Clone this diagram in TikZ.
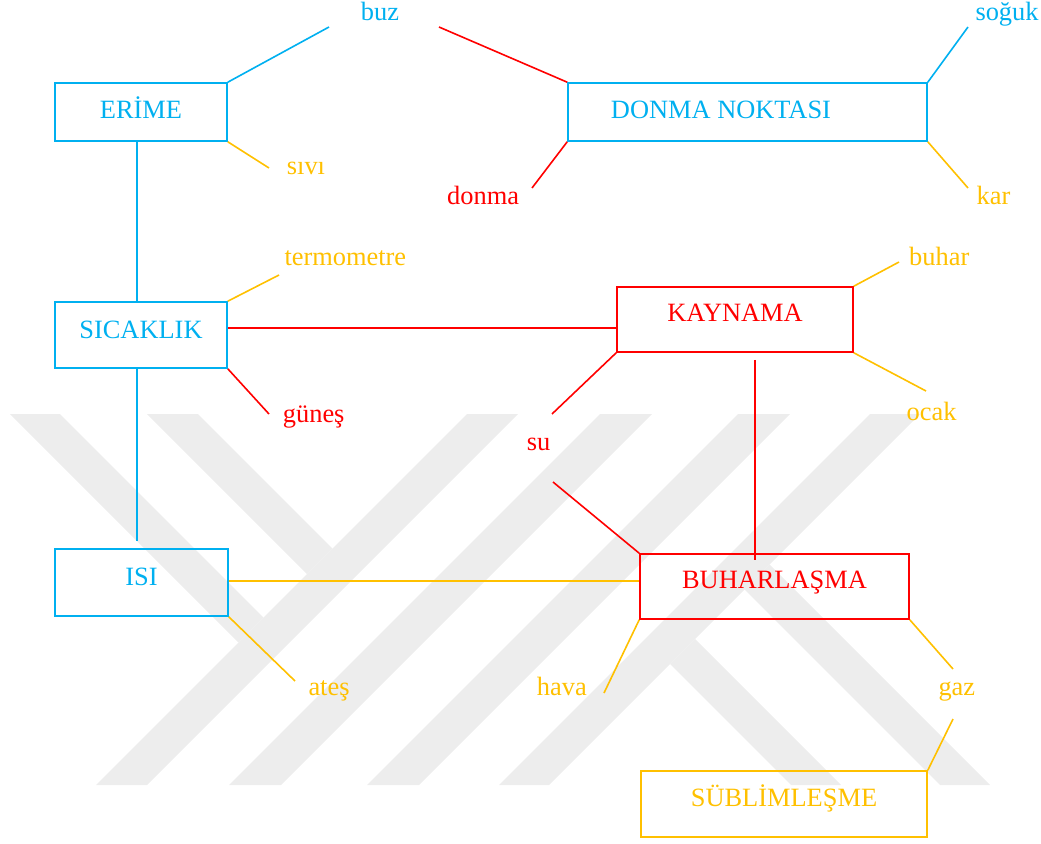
\documentclass[tikz,border=0pt]{standalone}
\usepackage{fontspec}
\setmainfont{Liberation Serif}
\definecolor{cblue}{RGB}{0,176,240}
\definecolor{cred}{RGB}{255,0,0}
\definecolor{cyel}{RGB}{255,192,0}
\definecolor{wm}{RGB}{237,237,237}
\newcommand{\fsz}{\fontsize{26.4pt}{30pt}\selectfont}
\begin{document}
\begin{tikzpicture}[x=1pt,y=-1pt,
  bx/.style={draw=#1, text=#1, line width=1.6pt, inner sep=0pt, text depth=0pt, font=\fsz},
  lbl/.style={text=#1, anchor=base west, inner sep=0pt, font=\fsz},
  ln/.style={draw=#1, line width=1.6pt},
  wmark/.style={fill=wm, draw=none}]
\useasboundingbox (0,0) rectangle (1041,843);
% watermark
\fill[wmark] (10,414) -- (60,414) -- (263.5,617.5) -- (238.5,642.5) -- cycle;
\fill[wmark] (147,414) -- (198,414) -- (332.5,548.5) -- (307,574) -- cycle;
\fill[wmark] (467,414) -- (518,414) -- (147,785) -- (96,785) -- cycle;
\fill[wmark] (600,414) -- (652,414) -- (281,785) -- (229,785) -- cycle;
\fill[wmark] (738,414) -- (790,414) -- (419,785) -- (367,785) -- cycle;
\fill[wmark] (870,414) -- (920,414) -- (549,785) -- (499,785) -- cycle;
\fill[wmark] (670,664) -- (695,639) -- (841,785) -- (791,785) -- cycle;
\fill[wmark] (744.5,589.5) -- (769.5,564.5) -- (990,785) -- (940,785) -- cycle;
% boxes
\node[bx=cblue, minimum width=172pt, minimum height=58pt, text height=12.6pt] (erime) at (141,112) {ERİME};
\node[bx=cblue, minimum width=359pt, minimum height=58pt, text height=12pt] (donma) at (747.5,112) {DONMA NOKTASI\hspace*{53pt}};
\node[bx=cblue, minimum width=172pt, minimum height=66pt, text height=6pt] (sicaklik) at (141,335) {SICAKLIK};
\node[bx=cred, minimum width=236pt, minimum height=65pt, text height=4.4pt] (kaynama) at (735,319.5) {KAYNAMA};
\node[bx=cblue, minimum width=173pt, minimum height=67pt, text height=5pt] (isi) at (141.5,582.5) {ISI};
\node[bx=cred, minimum width=269pt, minimum height=65pt, text height=3.6pt] (buhar) at (774.5,586.5) {BUHARLAŞMA};
\node[bx=cyel, minimum width=286pt, minimum height=66pt, text height=5.4pt] (subl) at (784,804) {SÜBLİMLEŞME};
% labels
\node[lbl=cblue] (buzL) at (360.7,21) {buz};
\node[lbl=cyel] (siviL) at (286.7,174) {sıvı};
\node[lbl=cblue] (sogukL) at (975.3,21) {soğuk};
\node[lbl=cred] (donmaL) at (447,204) {donma};
\node[lbl=cyel] (karL) at (976.5,204) {kar};
\node[lbl=cyel] (termL) at (284.3,265.7) {termometre};
\node[lbl=cred] (gunesL) at (282.7,422) {güneş};
\node[lbl=cyel] (buharL) at (909,265.7) {buhar};
\node[lbl=cyel] (ocakL) at (906.4,420) {ocak};
\node[lbl=cred] (suL) at (526.7,450) {su};
\node[lbl=cyel] (atesL) at (308.3,695.7) {ateş};
\node[lbl=cyel] (havaL) at (536.7,695.7) {hava};
\node[lbl=cyel] (gazL) at (938.3,695.7) {gaz};
% free ends
\coordinate (e1) at (329,27);
\coordinate (e2) at (439,27);
\coordinate (e3) at (269,168);
\coordinate (e4) at (279,275);
\coordinate (e5) at (269,414);
\coordinate (e6) at (899,262);
\coordinate (e7) at (926,391);
\coordinate (e8) at (552,414);
\coordinate (e9) at (553,482);
\coordinate (e10) at (295,681);
\coordinate (e11) at (604,693);
\coordinate (e12) at (953,669);
\coordinate (e13) at (953,719);
\coordinate (e14) at (532,188);
\coordinate (e15) at (968,27);
\coordinate (e16) at (968,188);
% connectors
\draw[ln=cblue] (erime.north east) -- (e1);
\draw[ln=cred] (e2) -- (donma.north west);
\draw[ln=cyel] (erime.south east) -- (e3);
\draw[ln=cblue] ([xshift=-4pt]erime.south) -- ([xshift=-4pt]sicaklik.north);
\draw[ln=cblue] ([xshift=-4pt]sicaklik.south) -- ([xshift=-4.5pt,yshift=7pt]isi.north);
\draw[ln=cyel] (sicaklik.north east) -- (e4);
\draw[ln=cred] (sicaklik.south east) -- (e5);
\draw[ln=cred] ([yshift=7pt]sicaklik.east) -- ([yshift=7pt]sicaklik.east -| kaynama.west);
\draw[ln=cyel] (kaynama.north east) -- (e6);
\draw[ln=cyel] (kaynama.south east) -- (e7);
\draw[ln=cred] (kaynama.south west) -- (e8);
\draw[ln=cred] (e9) -- (buhar.north west);
\draw[ln=cred] ([xshift=20pt,yshift=-7pt]kaynama.south) -- ([xshift=20pt,yshift=-7pt]kaynama.south |- buhar.north);
\draw[ln=cyel] ([yshift=1.5pt]isi.east) -- ([yshift=1.5pt]isi.east -| buhar.west);
\draw[ln=cyel] (isi.south east) -- (e10);
\draw[ln=cyel] (buhar.south west) -- (e11);
\draw[ln=cyel] (buhar.south east) -- (e12);
\draw[ln=cyel] (e13) -- (subl.north east);
\draw[ln=cred] (donma.south west) -- (e14);
\draw[ln=cblue] (donma.north east) -- (e15);
\draw[ln=cyel] (donma.south east) -- (e16);
\end{tikzpicture}
\end{document}
